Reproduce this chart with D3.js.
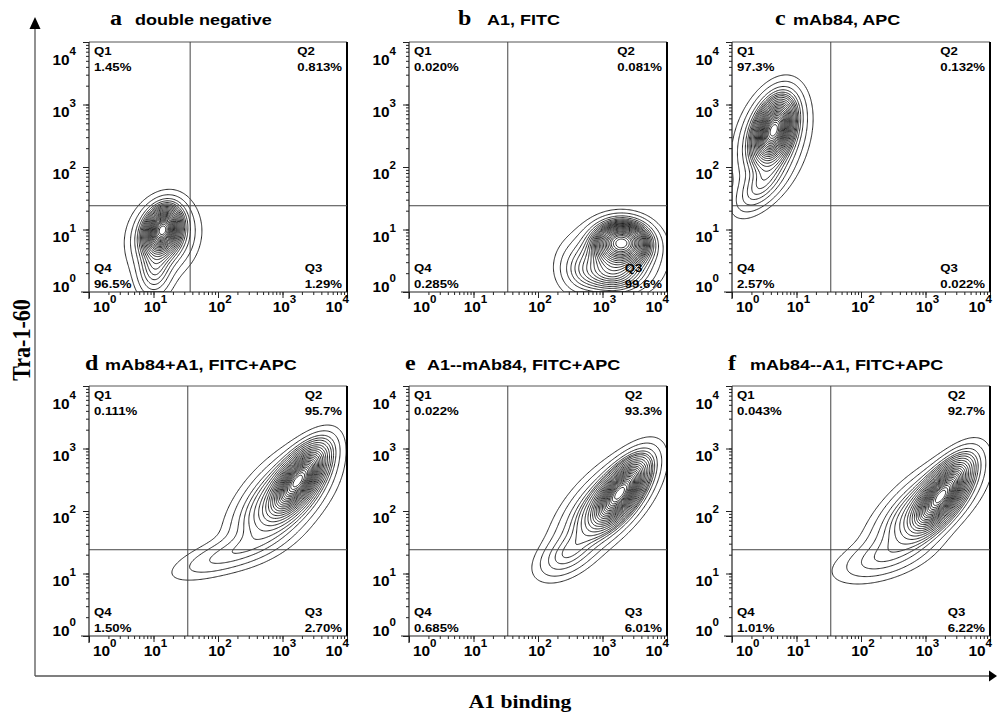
<!DOCTYPE html>
<html><head><meta charset="utf-8">
<script src="https://cdn.jsdelivr.net/npm/d3@7"></script>
<style>body{margin:0;background:#fff}svg{display:block}</style>
</head><body>
<svg id="chart" width="997" height="713"></svg>
<script>
// ---------------- data ----------------
const panelLetters = ["a", "b", "c", "d", "e", "f"];
const panelTitles = ["double negative", "A1, FITC", "mAb84, APC",
  "mAb84+A1, FITC+APC", "A1--mAb84, FITC+APC", "mAb84--A1, FITC+APC"];
const quadrantNames = ["Q1", "Q2", "Q3", "Q4"];
const q1Values = ["1.45%", "0.020%", "97.3%", "0.111%", "0.022%", "0.043%"];
const q2Values = ["0.813%", "0.081%", "0.132%", "95.7%", "93.3%", "92.7%"];
const q3Values = ["1.29%", "99.6%", "0.022%", "2.70%", "6.01%", "6.22%"];
const q4Values = ["96.5%", "0.285%", "2.57%", "1.50%", "0.685%", "1.01%"];
const tickExponents = [0, 1, 2, 3, 4];
const gateA1 = [37, 34, 34, 34, 34, 34];      // vertical gate (A1 binding)
const gateTra = [24, 24, 24, 24, 24, 24];     // horizontal gate (Tra-1-60)
// populations, in decades:
// [log10 A1 centre, log10 Tra centre, sd major, sd minor, angle deg, weight]
const popA = [[1.14, 1.0, 0.2, 0.14, 70, 0.55], [1.15, 0.88, 0.3, 0.24, 72, 0.35], [1.02, 0.35, 0.25, 0.15, 85, 0.10]];
const popB = [[3.3, 0.8, 0.24, 0.19, 0, 0.5], [3.2, 0.55, 0.38, 0.28, 0, 0.32], [3.15, 0.25, 0.3, 0.18, 0, 0.12], [2.65, 0.35, 0.22, 0.25, 0, 0.06]];
const popC = [[0.65, 2.6, 0.28, 0.15, 72, 0.6], [0.62, 2.45, 0.42, 0.25, 72, 0.32], [0.45, 1.7, 0.3, 0.15, 50, 0.08]];
const popD = [[3.25, 2.5, 0.32, 0.14, 55, 0.6], [3.0, 2.2, 0.5, 0.25, 48, 0.35], [2.15, 1.3, 0.5, 0.15, 20, 0.05]];
const popE = [[3.28, 2.3, 0.33, 0.14, 55, 0.6], [3.05, 2.1, 0.5, 0.23, 47, 0.34], [2.45, 1.3, 0.3, 0.17, 35, 0.06]];
const popF = [[3.25, 2.25, 0.35, 0.14, 55, 0.6], [3.0, 2.05, 0.52, 0.23, 42, 0.34], [2.35, 1.25, 0.45, 0.18, 18, 0.06]];
const populations = [popA, popB, popC, popD, popE, popF];
// enclosed-probability contour levels
const contourLevels = [0.985, 0.96, 0.92, 0.88, 0.84, 0.80, 0.76, 0.72, 0.68, 0.64, 0.60,
  0.56, 0.52, 0.48, 0.44, 0.40, 0.36, 0.32, 0.28, 0.24, 0.20, 0.16, 0.12, 0.08, 0.04];

// ---------------- layout ----------------
const SX = 1.2;
const colLeft = [89, 409, 732];
const rowTop = [42, 386];
const PW = 258, PH = 250;
const titleOffsets = [[21, 46], [49, 78], [43, 61], [-4, 16], [-4, 18], [-4, 18]];
const titleBaseline = [25, 370];

const svg = d3.select("#chart");
const sans = "'Liberation Sans', Arial, Helvetica, sans-serif";
const serif = "'Liberation Serif', 'Times New Roman', serif";

function stretched(parent, x, y, txt, size, family, anchor, weight) {
  return parent.append("text")
    .attr("transform", `translate(${x},${y}) scale(${SX},1)`)
    .attr("font-family", family).attr("font-size", size)
    .attr("font-weight", weight || "bold")
    .attr("text-anchor", anchor || "start").attr("fill", "#000").text(txt);
}

// big axes
svg.append("line").attr("x1", 35).attr("x2", 35).attr("y1", 27).attr("y2", 676)
  .attr("stroke", "#555").attr("stroke-width", 1.3);
svg.append("path").attr("d", "M35,17 L29.5,29 L40.5,29 Z").attr("fill", "#000");
svg.append("line").attr("x1", 35).attr("x2", 990).attr("y1", 676).attr("y2", 676)
  .attr("stroke", "#555").attr("stroke-width", 1.3);
svg.append("path").attr("d", "M997,676 L989,670.5 L989,681.5 Z").attr("fill", "#000");
svg.append("text").attr("transform", "translate(30,340) rotate(-90) scale(1.05,1.2)")
  .attr("font-family", serif).attr("font-size", 21).attr("font-weight", "bold")
  .attr("text-anchor", "middle").text("Tra-1-60");
stretched(svg, 520, 708, "A1 binding", 18, serif, "middle");

const minorVals = [];
for (const e of [0, 1, 2, 3]) for (let m = 1; m <= 9; m++) minorVals.push(m * Math.pow(10, e));
minorVals.push(1e4);
const majorVals = tickExponents.map(e => Math.pow(10, e));

const N = 220;
function densityGrid(pop) {
  const vals = new Float64Array(N * N);
  const comps = pop.map(([cx, cy, a, b, ang, w]) => {
    const t = ang * Math.PI / 180;
    return {cx, cy, a, b, c: Math.cos(t), s: Math.sin(t), k: w / (2 * Math.PI * a * b)};
  });
  for (let j = 0; j < N; j++) {
    const ly = 4 - (j + 0.5) * 4 / N;
    for (let i = 0; i < N; i++) {
      const lx = (i + 0.5) * 4 / N;
      let s = 0;
      for (const p of comps) {
        const dx = lx - p.cx, dy = ly - p.cy;
        const u = dx * p.c + dy * p.s, v = -dx * p.s + dy * p.c;
        s += p.k * Math.exp(-0.5 * (u * u / (p.a * p.a) + v * v / (p.b * p.b)));
      }
      vals[j * N + i] = s;
    }
  }
  return vals;
}
function probabilityThresholds(vals) {
  const sorted = Array.from(vals).sort((a, b) => b - a);
  const total = d3.sum(sorted);
  const fr = contourLevels.slice().sort((a, b) => a - b);
  const res = [];
  let cum = 0, k = 0;
  for (let i = 0; i < sorted.length && k < fr.length; i++) {
    cum += sorted[i];
    while (k < fr.length && cum / total >= fr[k]) { res.push(sorted[i]); k++; }
  }
  return res.sort((a, b) => a - b);
}

panelLetters.forEach((letter, idx) => {
  const col = idx % 3, row = Math.floor(idx / 3);
  const left = colLeft[col], top = rowTop[row], right = left + PW, bottom = top + PH;
  const xs = d3.scaleLog().domain([1, 1e4]).range([left, right]);
  const ys = d3.scaleLog().domain([1, 1e4]).range([bottom, top]);
  const g = svg.append("g");

  // title
  stretched(g, left + titleOffsets[idx][0], titleBaseline[row], letter, 20, serif);
  stretched(g, left + titleOffsets[idx][1], titleBaseline[row], panelTitles[idx], 15, sans);

  // clip
  const cid = "clip" + idx;
  svg.append("clipPath").attr("id", cid).append("rect")
    .attr("x", left).attr("y", top).attr("width", PW).attr("height", PH);

  // contours
  const vals = densityGrid(populations[idx]);
  const th = probabilityThresholds(vals);
  const cont = d3.contours().size([N, N]).thresholds(th)(vals);
  const proj = d3.geoTransform({point(x, y) {
    this.stream.point(xs(Math.pow(10, x * 4 / N)), ys(Math.pow(10, 4 - y * 4 / N)));
  }});
  const path = d3.geoPath(proj);
  g.append("g").attr("clip-path", `url(#${cid})`).selectAll("path").data(cont).join("path")
    .attr("d", path).attr("fill", "none").attr("stroke", "#111").attr("stroke-width", 0.9);

  // frame
  g.append("line").attr("x1", left).attr("x2", right).attr("y1", top).attr("y2", top)
    .attr("stroke", "#555").attr("stroke-width", 1);
  g.append("line").attr("x1", right).attr("x2", right).attr("y1", top).attr("y2", bottom)
    .attr("stroke", "#000").attr("stroke-width", 2);
  // gates
  g.append("line").attr("x1", xs(gateA1[idx])).attr("x2", xs(gateA1[idx])).attr("y1", top).attr("y2", bottom)
    .attr("stroke", "#444").attr("stroke-width", 1);
  g.append("line").attr("x1", left).attr("x2", right).attr("y1", ys(gateTra[idx])).attr("y2", ys(gateTra[idx]))
    .attr("stroke", "#444").attr("stroke-width", 1);

  // axes
  const axX = g.append("g").attr("transform", `translate(0,${bottom})`);
  axX.append("g").call(d3.axisBottom(xs).tickValues(minorVals).tickSize(3).tickSizeOuter(0).tickFormat(""));
  axX.append("g").call(d3.axisBottom(xs).tickValues(majorVals).tickSize(6).tickSizeOuter(0).tickFormat(""));
  axX.selectAll("path.domain").remove();
  axX.selectAll("line").attr("stroke", "#222");
  g.append("line").attr("x1", left - 8).attr("x2", right).attr("y1", bottom).attr("y2", bottom)
    .attr("stroke", "#222").attr("stroke-width", 1.2);

  const axY = g.append("g").attr("transform", `translate(${left},0)`);
  axY.append("g").call(d3.axisLeft(ys).tickValues(minorVals).tickSize(3).tickSizeOuter(0).tickFormat(""));
  axY.append("g").call(d3.axisLeft(ys).tickValues(majorVals).tickSize(6).tickSizeOuter(0).tickFormat(""));
  axY.selectAll("path.domain").remove();
  axY.selectAll("line").attr("stroke", "#222");
  g.append("line").attr("x1", left).attr("x2", left).attr("y1", top).attr("y2", bottom + 7)
    .attr("stroke", "#222").attr("stroke-width", 1.2);

  // tick labels
  tickExponents.forEach(e => {
    const v = Math.pow(10, e);
    const tx = g.append("text").attr("font-family", sans).attr("font-weight", "bold").attr("fill", "#000");
    tx.append("tspan").attr("font-size", 14).text("10");
    tx.append("tspan").attr("font-size", 10.5).attr("dy", -9).text(String(e));
    const w = tx.node().getComputedTextLength() * 1.1;
    let x0 = xs(v) - w / 2 + 2;
    x0 = Math.max(left + 4, Math.min(right + 2 - w, x0));
    tx.attr("transform", `translate(${x0},${bottom + 20}) scale(1.1,1)`);
    const ty = g.append("text").attr("font-family", sans).attr("font-weight", "bold").attr("fill", "#000")
      .attr("text-anchor", "end");
    ty.append("tspan").attr("font-size", 14).text("10");
    ty.append("tspan").attr("font-size", 10.5).attr("dy", -10).text(String(e));
    const yb = Math.max(top + 23, Math.min(bottom, ys(v) + 12));
    ty.attr("transform", `translate(${left - 13},${yb}) scale(1.1,1)`);
  });

  // quadrant labels
  const fs = 11;
  stretched(g, left + 5, top + 13, quadrantNames[0], fs, sans);
  stretched(g, left + 5, top + 29, q1Values[idx], fs, sans);
  stretched(g, left + 5, bottom - 20, quadrantNames[3], fs, sans);
  stretched(g, left + 5, bottom - 4, q4Values[idx], fs, sans);
  const p2 = stretched(g, right - 5, top + 29, q2Values[idx], fs, sans, "end");
  const w2 = p2.node().getComputedTextLength() * SX;
  stretched(g, right - 5 - w2, top + 13, quadrantNames[1], fs, sans);
  const p3 = stretched(g, right - 5, bottom - 4, q3Values[idx], fs, sans, "end");
  const w3 = p3.node().getComputedTextLength() * SX;
  stretched(g, right - 5 - w3, bottom - 20, quadrantNames[2], fs, sans);
});
</script>
</body></html>
